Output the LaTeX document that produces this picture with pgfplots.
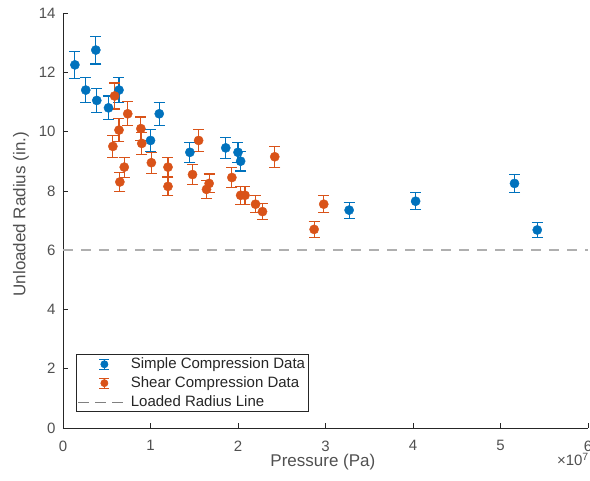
\documentclass[border=0pt]{standalone}
\usepackage{pgfplots}
\pgfplotsset{compat=1.18}
\usepackage{fontspec}
\setmainfont{Liberation Sans}
\definecolor{mblue}{RGB}{0,114,189}
\definecolor{morange}{RGB}{217,83,25}
\definecolor{axgray}{RGB}{38,38,38}
\definecolor{txtgray}{RGB}{80,80,80}
\definecolor{lgray}{RGB}{175,175,175}

% pressure in units of 1e7 Pa, radius (in.), error (in.)
\pgfplotstableread{
x y e
0.136 12.25 0.45
0.375 12.75 0.47
0.26 11.40 0.42
0.386 11.05 0.41
0.52 10.80 0.40
0.64 11.40 0.42
1.00 9.70 0.36
1.10 10.60 0.39
1.45 9.30 0.34
1.86 9.45 0.35
2.00 9.30 0.34
2.03 9.00 0.33
3.27 7.35 0.27
4.03 7.65 0.28
5.16 8.25 0.31
5.42 6.68 0.25
}\simple

\pgfplotstableread{
x y e
0.59 11.20 0.44
0.74 10.60 0.41
0.64 10.05 0.39
0.57 9.50 0.37
0.89 10.10 0.39
0.90 9.60 0.37
0.70 8.80 0.34
0.65 8.30 0.32
1.01 8.95 0.35
1.20 8.80 0.34
1.20 8.15 0.32
1.48 8.55 0.33
1.55 9.70 0.38
1.67 8.25 0.32
1.64 8.05 0.31
1.93 8.45 0.33
2.03 7.85 0.31
2.08 7.85 0.31
2.20 7.55 0.29
2.28 7.30 0.28
2.42 9.15 0.36
2.98 7.55 0.29
2.87 6.70 0.26
}\shear

\begin{document}
\begin{tikzpicture}
\begin{axis}[
  scale only axis, width=525pt, height=415pt,
  xmin=0, xmax=6, ymin=0, ymax=14,
  xtick={0,1,...,6}, ytick={0,2,...,14},
  axis x line*=bottom, axis y line*=left,
  axis line style={axgray, line width=0.6pt, -},
  tick align=inside, major tick length=5pt,
  tick style={axgray, line width=0.6pt},
  /pgf/number format/assume math mode=true,
  tick label style={font=\fontsize{15}{17}\selectfont, text=txtgray},
  xticklabel style={yshift=-9pt},
  yticklabel style={xshift=-4pt},
  xlabel={Pressure (Pa)}, ylabel={Unloaded Radius (in.)},
  label style={font=\fontsize{17}{19}\selectfont, text=txtgray},
  xlabel style={at={(rel axis cs:0.495,0)}, anchor=base, yshift=-39pt},
  ylabel style={at={(rel axis cs:0,0.515)}, anchor=center, yshift=42pt},
  legend style={at={(axis cs:0.15,0.54)}, anchor=south west,
    draw=axgray, line width=0.6pt, fill=white,
    font=\fontsize{15}{17}\selectfont, text=axgray,
    row sep=2.5pt, inner sep=1.5pt},
  legend cell align=left,
]
\coordinate (ll) at (rel axis cs:0,0);
\coordinate (ur) at (rel axis cs:1,1);
\addplot[only marks, mark=*, mark size=4.6pt, color=mblue,
  mark options={fill=mblue, draw=mblue},
  legend image code/.code={
    \draw[mblue, line width=1pt] (26pt,-5pt) -- (26pt,5pt);
    \draw[mblue, line width=1pt] (21pt,-5pt) -- (31pt,-5pt);
    \draw[mblue, line width=1pt] (21pt,5pt) -- (31pt,5pt);
    \fill[mblue] (26pt,0pt) circle (3.6pt);},
  error bars/.cd, y dir=both, y explicit,
  error mark=-,
  error bar style={line width=1.1pt, mblue},
  error mark options={rotate=90, line width=1.1pt, mark size=5.5pt, mblue}]
  table[x=x, y=y, y error=e] {\simple};
\addlegendentry{Simple Compression Data}
\addplot[only marks, mark=*, mark size=4.6pt, color=morange,
  mark options={fill=morange, draw=morange},
  legend image code/.code={
    \draw[morange, line width=1pt] (26pt,-5pt) -- (26pt,5pt);
    \draw[morange, line width=1pt] (21pt,-5pt) -- (31pt,-5pt);
    \draw[morange, line width=1pt] (21pt,5pt) -- (31pt,5pt);
    \fill[morange] (26pt,0pt) circle (3.6pt);},
  error bars/.cd, y dir=both, y explicit,
  error mark=-,
  error bar style={line width=1.1pt, morange},
  error mark options={rotate=90, line width=1.1pt, mark size=5.5pt, morange}]
  table[x=x, y=y, y error=e] {\shear};
\addlegendentry{Shear Compression Data}
\addplot[lgray, line width=1.3pt, dash pattern=on 10pt off 8pt,
  legend image code/.code={
    \draw[gray, line width=0.9pt, dash pattern=on 11pt off 6pt] (0pt,0pt) -- (50pt,0pt);}]
  coordinates {(0,6) (6,6)};
\addlegendentry{Loaded Radius Line}
\end{axis}
\node[anchor=base east, font=\fontsize{15}{17}\selectfont, text=txtgray,
  inner sep=0pt] at ([yshift=-38pt, xshift=1pt]ur |- ll) {×10\textsuperscript{7}};
\pgfresetboundingbox
\path ([xshift=-63pt, yshift=-53pt]ll) rectangle ([xshift=2pt, yshift=13pt]ur);
\end{tikzpicture}
\end{document}
